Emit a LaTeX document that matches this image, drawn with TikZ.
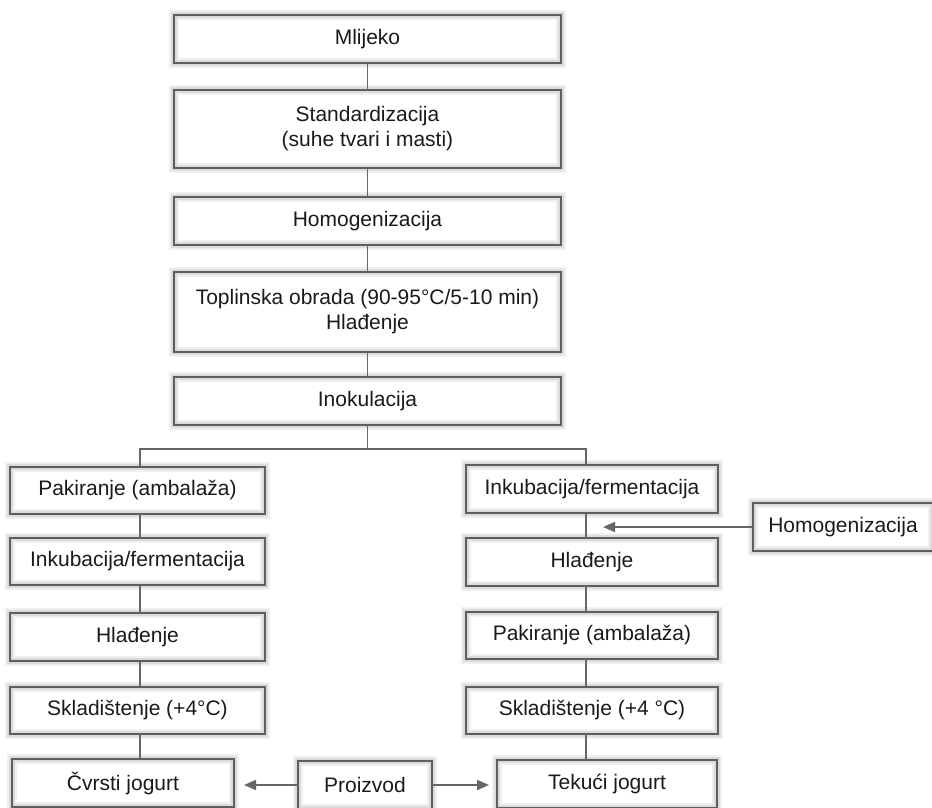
\documentclass[tikz,border=0pt]{standalone}
\usepackage{fontspec}
\setmainfont{Liberation Sans}
\usetikzlibrary{arrows.meta}
\definecolor{boxc}{HTML}{5E5E5E}
\definecolor{linec}{HTML}{666666}
\definecolor{txtc}{HTML}{1A1A1A}
\begin{document}
\begin{tikzpicture}[x=1pt,y=-1pt,
  stepbox/.style={
    preaction={fill=white},
    preaction={draw=black!6, line width=10pt},
    preaction={draw=black!14, line width=6pt},
    draw=boxc, line width=2.5pt, inner sep=0pt, outer sep=0pt,
    align=center, text=txtc, font=\fontsize{21}{25}\selectfont},
  conn/.style={draw=linec, line width=1.8pt},
  arr/.style={conn, -{Triangle[length=12pt,width=10pt]}}]
\useasboundingbox (0,0) rectangle (932,807);
\clip (0,0) rectangle (932,807);
% top column
\node[stepbox, minimum width=387pt, minimum height=48pt] (mlijeko) at (367.5,39) {Mlijeko};
\node[stepbox, minimum width=387pt, minimum height=78pt] (stand) at (367.5,129) {Standardizacija\\(suhe tvari i masti)};
\node[stepbox, minimum width=387pt, minimum height=48pt] (homo) at (367.5,221) {Homogenizacija};
\node[stepbox, minimum width=387pt, minimum height=80pt] (topl) at (367.5,312) {Toplinska obrada (90-95°C/5-10 min)\\Hlađenje};
\node[stepbox, minimum width=387pt, minimum height=48pt] (inok) at (367.5,401) {Inokulacija};
% left column
\node[stepbox, minimum width=255pt, minimum height=47pt] (L1) at (137.5,490.5) {Pakiranje (ambalaža)};
\node[stepbox, minimum width=255pt, minimum height=47pt] (L2) at (137.5,561.5) {Inkubacija/fermentacija};
\node[stepbox, minimum width=255pt, minimum height=48pt] (L3) at (137.5,637) {Hlađenje};
\node[stepbox, minimum width=255pt, minimum height=47pt] (L4) at (137.5,710.5) {Skladištenje (+4°C)};
\node[stepbox, minimum width=222pt, minimum height=48pt] (L5) at (123,783) {Čvrsti jogurt};
% right column
\node[stepbox, minimum width=252pt, minimum height=48pt] (R1) at (592,489) {Inkubacija/fermentacija};
\node[stepbox, minimum width=252pt, minimum height=48pt] (R2) at (592,562) {Hlađenje};
\node[stepbox, minimum width=252pt, minimum height=47pt] (R3) at (592,635.5) {Pakiranje (ambalaža)};
\node[stepbox, minimum width=252pt, minimum height=47pt] (R4) at (592,710.5) {Skladištenje (+4 °C)};
\node[stepbox, minimum width=220pt, minimum height=48pt] (R5) at (607,784) {Tekući jogurt};
% side and product
\node[stepbox, minimum width=180pt, minimum height=48pt] (side) at (843,527) {Homogenizacija};
\node[stepbox, minimum width=134pt, minimum height=48pt] (proiz) at (365,785) {Proizvod};
% branch coordinates
\coordinate (bl) at (140,449);
\coordinate (br) at (586,449);
% connectors, top column
\draw[conn] (mlijeko.south) -- (stand.north);
\draw[conn] (stand.south) -- (homo.north);
\draw[conn] (homo.south) -- (topl.north);
\draw[conn] (topl.south) -- (inok.north);
\draw[conn] (inok.south) -- (inok.south |- bl);
\draw[conn] (L1.north -| bl) -- (bl) -- (br) -- (R1.north -| br);
% left column
\draw[conn] (L1.south -| bl) -- (L2.north -| bl);
\draw[conn] (L2.south -| bl) -- (L3.north -| bl);
\draw[conn] (L3.south -| bl) -- (L4.north -| bl);
\draw[conn] (L4.south -| bl) -- (L5.north -| bl);
% right column
\draw[conn] (R1.south -| br) -- (R2.north -| br);
\draw[conn] (R2.south -| br) -- (R3.north -| br);
\draw[conn] (R3.south -| br) -- (R4.north -| br);
\draw[conn] (R4.south -| br) -- (R5.north -| br);
% arrows
\draw[arr, shorten >=17pt] (side.west) -- (side.west -| br);
\draw[arr, shorten >=10pt] (proiz.west) -- (L5.east |- proiz.west);
\draw[arr, shorten >=8pt] (proiz.east) -- (R5.west |- proiz.east);
\end{tikzpicture}
\end{document}
